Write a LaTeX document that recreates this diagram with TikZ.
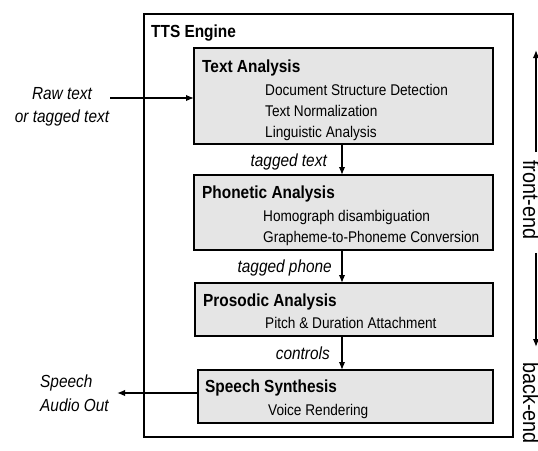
\documentclass[tikz,border=0pt]{standalone}
\usepackage{fontspec}
\setmainfont{Liberation Sans}[FakeStretch=0.88]
\usetikzlibrary{arrows.meta}
\definecolor{boxgray}{RGB}{229,229,229}
\begin{document}
\begin{tikzpicture}[x=1pt,y=-1pt,
  frame/.style={draw, line width=1.5pt, anchor=north west, inner sep=0pt, outer sep=0pt},
  stage/.style={frame, fill=boxgray},
  head/.style={font=\fontsize{17.5}{20}\selectfont\bfseries, anchor=base west, inner sep=0pt},
  sub/.style={font=\fontsize{15.5}{18}\selectfont, anchor=base west, inner sep=0pt},
  lab/.style={font=\fontsize{17.5}{20}\selectfont\itshape, inner sep=0pt},
  side/.style={font=\fontsize{22.5}{24}\selectfont, rotate=-90, inner sep=0pt},
  arr/.style={-{Latex[length=8pt,width=6.5pt]}, line width=1.5pt}]
\useasboundingbox (0,0) rectangle (538,450);

% outer engine box
\node[frame, minimum width=369pt, minimum height=423pt] (engine) at (144,14) {};
\node[head] (title) at (151,37) {TTS Engine};

% stages
\node[stage, minimum width=299pt, minimum height=96pt] (ta) at (194,48) {};
\node[stage, minimum width=299pt, minimum height=75pt] (pa) at (194,175) {};
\node[stage, minimum width=298pt, minimum height=53pt] (pr) at (195,283) {};
\node[stage, minimum width=295pt, minimum height=53pt] (ss) at (198,370) {};

% text analysis
\node[head] (tah) at (202,72) {Text Analysis};
\node[sub] (ta1) at (265,95) {Document Structure Detection};
\node[sub] (ta2) at (265,116) {Text Normalization};
\node[sub] (ta3) at (265,137) {Linguistic Analysis};

% phonetic analysis
\node[head] (pah) at (202,198.5) {Phonetic Analysis};
\node[sub] (pa1) at (263,221.5) {Homograph disambiguation};
\node[sub] (pa2) at (263,242.5) {Grapheme-to-Phoneme Conversion};

% prosodic analysis
\node[head] (prh) at (203,306) {Prosodic Analysis};
\node[sub] (pr1) at (265,328) {Pitch \& Duration Attachment};

% speech synthesis
\node[head] (ssh) at (205,392.5) {Speech Synthesis};
\node[sub] (ss1) at (268,415) {Voice Rendering};

% flow arrows
\coordinate (ax) at (342,0);
\draw[arr] (ta.south -| ax) -- (pa.north -| ax);
\draw[arr] (pa.south -| ax) -- (pr.north -| ax);
\draw[arr] (pr.south -| ax) -- (ss.north -| ax);
\node[lab, anchor=base east] (l1) at (327,166) {tagged text};
\node[lab, anchor=base east] (l2) at (332,272) {tagged phone};
\node[lab, anchor=base east] (l3) at (330,359) {controls};

% input
\node[lab, anchor=base] (raw1) at (62,99) {Raw text};
\node[lab, anchor=base] (raw2) at (62,122.5) {or tagged text};
\coordinate (rawin) at (110,98);
\draw[arr] (rawin) -- (ta.west |- rawin);

% output
\node[lab, anchor=base west] (out1) at (40,387) {Speech};
\node[lab, anchor=base west] (out2) at (40,411) {Audio Out};
\coordinate (audio) at (117,393);
\draw[arr] (ss.west |- audio) -- (audio);

% front-end / back-end
\coordinate (feTop) at (536,50);
\coordinate (feBot) at (536,347);
\node[side, anchor=base] (fe) at (523,200) {front-end};
\node[side, anchor=base west] (be) at (523,362) {back-end};
\draw[arr, shorten <=8pt] (fe.west -| feTop) -- (feTop);
\draw[arr, shorten <=13pt] (fe.east -| feBot) -- (feBot);
\end{tikzpicture}
\end{document}
